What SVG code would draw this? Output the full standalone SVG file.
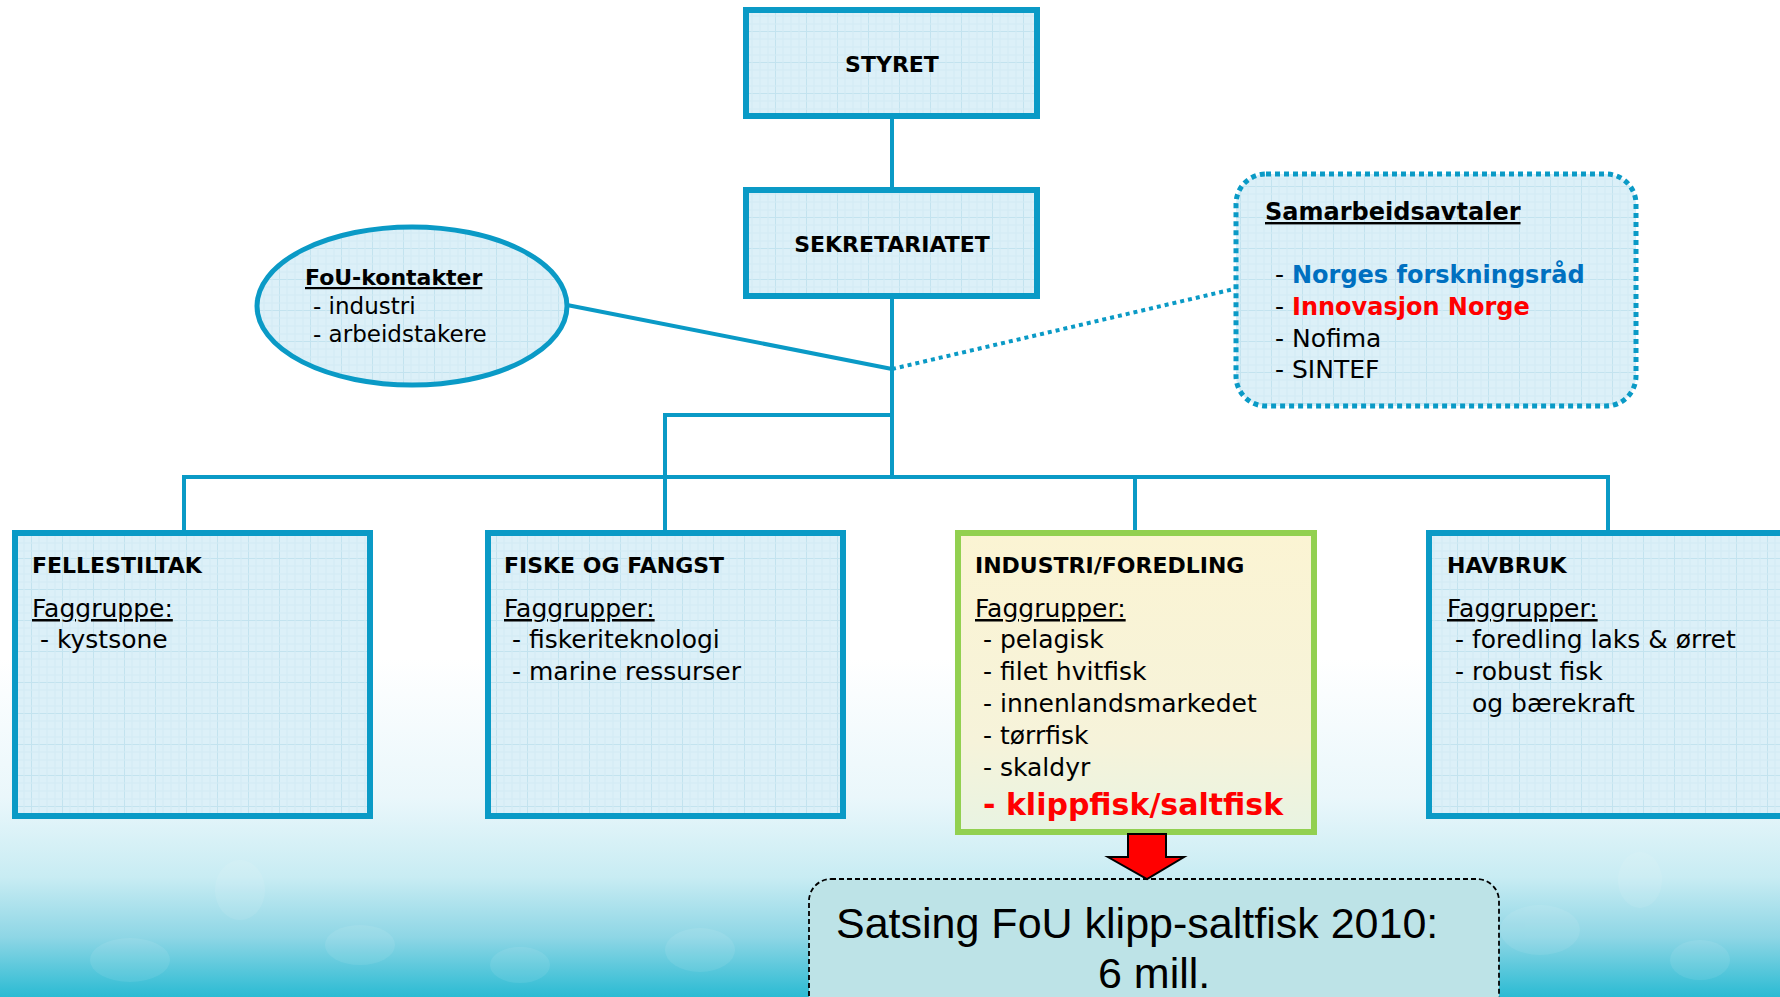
<svg xmlns="http://www.w3.org/2000/svg" width="1780" height="997" viewBox="0 0 1780 997">
<defs>
<linearGradient id="bg" x1="0" y1="0" x2="0" y2="1" gradientUnits="objectBoundingBox">
<stop offset="0" stop-color="#ffffff"/>
<stop offset="0.66" stop-color="#ffffff"/>
<stop offset="0.8" stop-color="#eaf7fb"/>
<stop offset="0.88" stop-color="#c8ecf3"/>
<stop offset="0.94" stop-color="#8ed6e5"/>
<stop offset="1" stop-color="#2bbbd3"/>
</linearGradient>
<pattern id="grid" width="31" height="31" patternUnits="userSpaceOnUse">
<rect width="31" height="31" fill="#dcf0f8"/>
<path d="M0 0.5 H31 M0.5 0 V31" stroke="#c3e3ef" stroke-width="1"/>
<path d="M0 8 H31 M0 16 H31 M0 24 H31 M8 0 V31 M16 0 V31 M24 0 V31" stroke="#d3ebf4" stroke-width="1"/>
</pattern>
<linearGradient id="ind" x1="0" y1="0" x2="0" y2="1">
<stop offset="0" stop-color="#fbf4d3"/>
<stop offset="0.7" stop-color="#f6f3da"/>
<stop offset="1" stop-color="#e8f3e2"/>
</linearGradient>
<style>
.box{fill:url(#grid);stroke:#0a9ac6;stroke-width:6}
.con{fill:none;stroke:#0a9ac6;stroke-width:4}
.hd{font-family:"DejaVu Sans",sans-serif;font-weight:bold;font-size:22px;fill:#000}
.tx{font-family:"DejaVu Sans",sans-serif;font-size:25px;fill:#000}
.ul{text-decoration:underline}
</style>
</defs>
<rect x="0" y="0" width="1780" height="997" fill="url(#bg)"/>
<g opacity="0.08" fill="#ffffff">
<ellipse cx="130" cy="960" rx="40" ry="22"/>
<ellipse cx="360" cy="945" rx="35" ry="20"/>
<ellipse cx="520" cy="965" rx="30" ry="18"/>
<ellipse cx="240" cy="890" rx="25" ry="30"/>
<ellipse cx="700" cy="950" rx="35" ry="22"/>
<ellipse cx="1540" cy="930" rx="40" ry="25"/>
<ellipse cx="1700" cy="960" rx="30" ry="20"/>
<ellipse cx="1640" cy="880" rx="22" ry="28"/>
</g>

<g id="connectors">
<line class="con" x1="892" y1="118" x2="892" y2="188"/>
<line class="con" x1="892" y1="298" x2="892" y2="479"/>
<line class="con" x1="567" y1="305" x2="892" y2="369"/>
<line class="con" x1="892" y1="369" x2="1234" y2="289" stroke-dasharray="4 4"/>
<path class="con" d="M892 415 H665 V531"/>
<path class="con" d="M184 531 V477 H1608 V531"/>
<path class="con" d="M1135 477 V531"/>
</g>

<g id="styret">
<rect class="box" x="746" y="10" width="291" height="106"/>
<text class="hd" x="892" y="72" text-anchor="middle">STYRET</text>
</g>

<g id="sekretariatet">
<rect class="box" x="746" y="190" width="291" height="106"/>
<text class="hd" x="892" y="252" text-anchor="middle">SEKRETARIATET</text>
</g>

<g id="fou">
<ellipse cx="412" cy="306" rx="155" ry="79" fill="url(#grid)" stroke="#0a9ac6" stroke-width="5"/>
<text class="hd ul" x="305" y="285">FoU-kontakter</text>
<text class="tx" x="313" y="314" style="font-size:23px">- industri</text>
<text class="tx" x="313" y="342" style="font-size:23px">- arbeidstakere</text>
</g>

<g id="samarbeid">
<rect x="1236" y="174" width="400" height="232" rx="30" fill="url(#grid)" stroke="#0a9ac6" stroke-width="5" stroke-dasharray="5 4"/>
<text class="hd ul" x="1265" y="220" style="font-size:24px">Samarbeidsavtaler</text>
<text class="tx" x="1275" y="283">- <tspan style="font-weight:bold;font-size:24px;fill:#0070c0">Norges forskningsråd</tspan></text>
<text class="tx" x="1275" y="315">- <tspan style="font-weight:bold;font-size:24px;fill:#ff0000">Innovasjon Norge</tspan></text>
<text class="tx" x="1275" y="347">- Nofima</text>
<text class="tx" x="1275" y="378">- SINTEF</text>
</g>

<g id="fellestiltak">
<rect class="box" x="15" y="533" width="355" height="283"/>
<text class="hd" x="32" y="573">FELLESTILTAK</text>
<text class="tx ul" x="32" y="617">Faggruppe:</text>
<text class="tx" x="40" y="648">- kystsone</text>
</g>

<g id="fiske">
<rect class="box" x="488" y="533" width="355" height="283"/>
<text class="hd" x="504" y="573">FISKE OG FANGST</text>
<text class="tx ul" x="504" y="617">Faggrupper:</text>
<text class="tx" x="512" y="648">- fiskeriteknologi</text>
<text class="tx" x="512" y="680">- marine ressurser</text>
</g>

<g id="industri">
<rect x="958" y="533" width="356" height="299" fill="url(#ind)" stroke="#92d050" stroke-width="6"/>
<text class="hd" x="975" y="573">INDUSTRI/FOREDLING</text>
<text class="tx ul" x="975" y="617">Faggrupper:</text>
<text class="tx" x="983" y="648">- pelagisk</text>
<text class="tx" x="983" y="680">- filet hvitfisk</text>
<text class="tx" x="983" y="712">- innenlandsmarkedet</text>
<text class="tx" x="983" y="744">- tørrfisk</text>
<text class="tx" x="983" y="776">- skaldyr</text>
<text class="hd" x="983" y="815" style="font-size:30px;fill:#ff0000">- klippfisk/saltfisk</text>
</g>

<g id="havbruk">
<rect class="box" x="1429" y="533" width="355" height="283"/>
<text class="hd" x="1447" y="573">HAVBRUK</text>
<text class="tx ul" x="1447" y="617">Faggrupper:</text>
<text class="tx" x="1455" y="648">- foredling laks &amp; ørret</text>
<text class="tx" x="1455" y="680">- robust fisk</text>
<text class="tx" x="1472" y="712">og bærekraft</text>
</g>

<g id="satsing">
<rect x="809" y="879" width="690" height="150" rx="22" fill="#bde3e7" stroke="#000" stroke-width="1.8" stroke-dasharray="5 3"/>
<text x="836" y="938" font-family="Liberation Sans, Arial, sans-serif" font-size="43" fill="#000">Satsing FoU klipp-saltfisk 2010:</text>
<text x="1098" y="988" font-family="Liberation Sans, Arial, sans-serif" font-size="43" fill="#000">6 mill.</text>
</g>

<g id="arrow">
<polygon points="1128,834 1166,834 1166,857 1184,857 1147,879 1108,857 1128,857" fill="#ff0000" stroke="#000" stroke-width="2" stroke-linejoin="miter"/>
</g>
</svg>
